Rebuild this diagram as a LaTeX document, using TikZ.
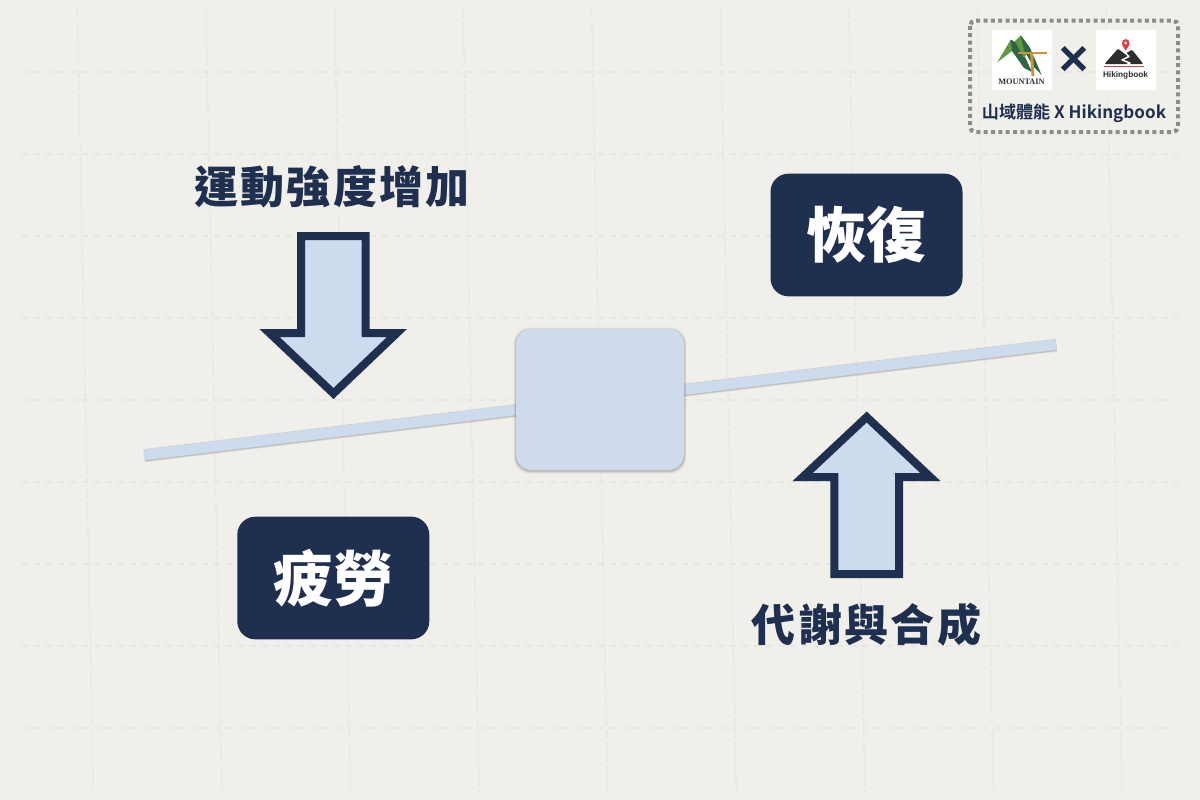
\documentclass[tikz,border=0pt]{standalone}
\usepackage{fontspec}
\setmainfont{Noto Sans CJK TC}[BoldFont=*]
\newfontfamily\cjkbold{Noto Sans CJK TC Bold}
\newfontfamily\cjkblack{Noto Sans CJK TC Black}
\newfontfamily\cjklabel{Noto Sans CJK TC Black}[LetterSpace=5.2]
\newfontfamily\cjktimes{Noto Sans CJK TC Black}[FakeBold=2.5]
\newfontfamily\logosans{Liberation Sans Bold}
\newfontfamily\logoserif{Liberation Serif Bold}
\definecolor{bgc}{HTML}{F1EFEA}
\definecolor{gridc}{HTML}{E7E6E2}
\definecolor{navy}{HTML}{1F2F50}
\definecolor{paleblue}{HTML}{CCDCEE}
\definecolor{boxblue}{HTML}{CFDBEC}
\definecolor{dotc}{HTML}{8C8C8A}
\definecolor{logog}{HTML}{5E9A3E}
\definecolor{logogd}{HTML}{2F6543}
\definecolor{logoo}{HTML}{C4963E}
\definecolor{logor}{HTML}{D9403F}
\definecolor{logok}{HTML}{2E2E2E}
\tikzset{
  gridh/.style={draw=gridc,line width=0.9pt,dash pattern=on 4.6pt off 4.4pt},
  gridv/.style={draw=gridc,line width=0.9pt,dash pattern=on 6pt off 3pt},
  bigarrow/.style={draw=navy,fill=paleblue,line width=6pt,miter limit=10,line join=miter},
  navybox/.style={fill=navy,rounded corners=13.5pt,minimum width=144pt,minimum height=92pt,inner sep=0pt,text=white,font=\cjkblack\fontsize{45}{45}\selectfont},
  label/.style={text=navy,inner sep=0pt,font=\cjklabel\fontsize{33}{33}\selectfont},
  logobg/.style={fill=white,minimum width=45pt,minimum height=45pt,inner sep=0pt},
}
\begin{document}
\begin{tikzpicture}[x=0.75pt,y=-0.75pt]
\useasboundingbox (0,0) rectangle (1200,800);
\fill[bgc] (0,0) rectangle (1200,800);
% grid
\foreach \yy in {72,154,236,318,400,482,564,646,728}
  \draw[gridh] (22,\yy) -- (1178,\yy);
\foreach \k in {0,...,8}
  \draw[gridv] ({77.3+128.6*\k},10) -- ({93.3+128.6*\k},792);
% plank
\foreach \w/\o in {13.5/0.04,12.5/0.07,11.5/0.10}
  \draw[black,opacity=\o,line width=\w*0.75pt] (144.3,455.6) -- (1056.3,345.1);
\draw[paleblue,line width=7.9pt] (144,455) -- (1056,344.5);
% pivot box with soft shadow
\foreach \g/\o in {2.5/0.05,1.5/0.08,0.7/0.11}
  \fill[black,opacity=\o,rounded corners=12pt] (516-\g,329-\g+1) rectangle (684+\g,470+\g+1);
\node[fill=boxblue,rounded corners=12pt,minimum width=126pt,minimum height=105.75pt,inner sep=0pt] (pivot) at (600,399.5) {};
% arrows
\draw[bigarrow] (301,236) -- (365.5,236) -- (365.5,333) -- (397,333) -- (333.5,393.5) -- (269.5,333) -- (301,333) -- cycle;
\draw[bigarrow] (834.3,574) -- (899,574) -- (899,477) -- (930.3,477) -- (866.7,417) -- (802.7,477) -- (834.3,477) -- cycle;
% boxes and labels
\node[navybox] (recover) at (866.5,235) {恢復};
\node[navybox] (fatigue) at (333.3,578) {疲勞};
\node[label] (load) at (332,187) {運動強度增加};
\node[label] (meta) at (866.5,625) {代謝與合成};
% badge
\draw[dotc,line width=3pt,dash pattern=on 3pt off 2.5pt,rounded corners=4pt] (970,20.5) rectangle (1178,132);
\node[logobg] (logoa) at (1022,60) {};
\node[logobg] (logob) at (1126,60) {};
\node[text=navy,inner sep=0pt,font=\cjktimes\fontsize{27}{27}\selectfont] (times) at (1073.5,59.5) {×};
\node[text=navy,inner sep=0pt,font=\cjkbold\fontsize{12.8}{14}\selectfont] (badge) at (1074,113) {山域體能 X Hikingbook};
% mountain logo
\fill[logog] (1010.7,39.7) -- (997.3,62.3) -- (1012,51) -- (1019,44) -- cycle;
\fill[logogd] (1010.7,39.7) -- (1019,44) -- (1032,72) -- (1024,68) -- (1012,51) -- cycle;
\fill[logog] (1020.7,35.3) -- (1015,41) -- (1024,58) -- (1030,48) -- cycle;
\fill[logogd] (1020.7,35.3) -- (1030,48) -- (1041.7,75) -- (1033,66) -- (1024,50) -- cycle;
\draw[logoo,line width=1.8pt] (1018.3,53) -- (1047.3,53);
\draw[logoo,line width=2.2pt] (1031.5,53) -- (1033,76);
\node[text=logok,inner sep=0pt,font=\logoserif\fontsize{6.2}{7}\selectfont] (logoatext) at (1021.5,82) {MOUNTAIN};
% hikingbook logo
\fill[logok,rounded corners=0.8pt] (1104.5,64) -- (1118,48.7) -- (1125,54) -- (1132,49.7) -- (1143.3,64) -- cycle;
\draw[white,line width=1.1pt,line join=round] (1122,50) -- (1129,56.5) -- (1122,60) -- (1130,63) -- (1127,64.5);
\fill[logor] (1125.7,43) circle (3.9);
\fill[logor] (1122.2,45) -- (1129.2,45) -- (1125.7,50.7) -- cycle;
\fill[white] (1125.7,43) circle (1.5);
\draw[logor,line width=0.9pt] (1104,66.5) -- (1144,66.5);
\node[text=logok,inner sep=0pt,font=\logosans\fontsize{6.2}{7}\selectfont] (logobtext) at (1125.5,75) {Hikingbook};
\end{tikzpicture}
\end{document}
